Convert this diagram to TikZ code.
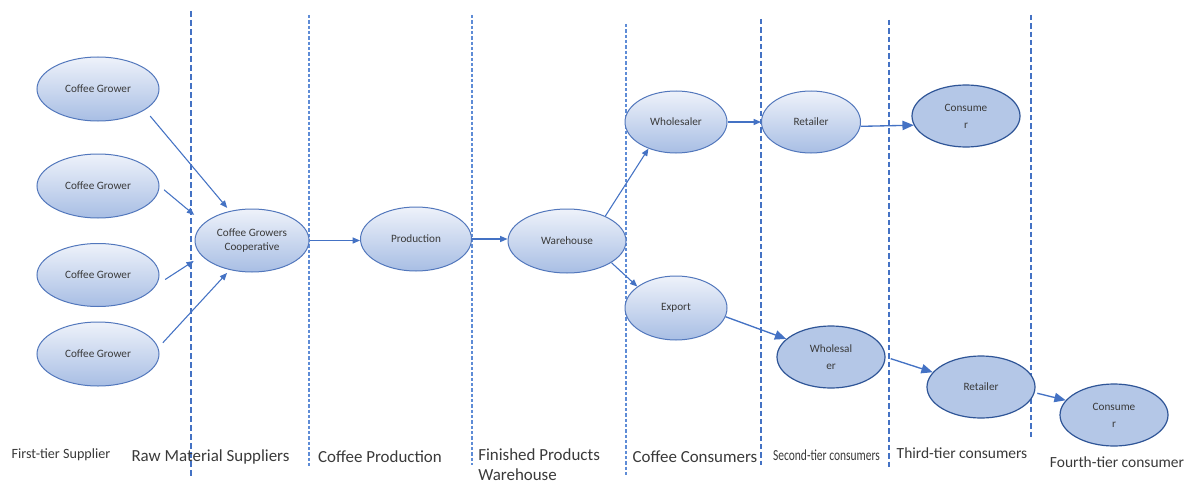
\documentclass[tikz,border=0pt]{standalone}
\usepackage{fontspec}
\usepackage{graphicx}
\setmainfont{Carlito}
\usetikzlibrary{shapes.geometric,arrows.meta}
\definecolor{arrowblue}{HTML}{4472C4}
\definecolor{lineblue}{HTML}{4472C4}
\definecolor{dotblue}{HTML}{5E8CD6}
\definecolor{gtop}{HTML}{EEF2FA}
\definecolor{gbot}{HTML}{A8BEE4}
\definecolor{gborder}{HTML}{5277BC}
\definecolor{sfill}{HTML}{B4C7E7}
\definecolor{sborder}{HTML}{2F5597}
\definecolor{txt}{HTML}{3A3A3A}
\begin{document}
\begin{tikzpicture}[x=0.75pt,y=-0.75pt,
 gell/.style 2 args={ellipse, inner sep=0pt, minimum width=#1*0.75pt, minimum height=#2*0.75pt, draw=gborder, line width=0.75pt, top color=gtop, bottom color=gbot, font=\fontsize{8.4}{10.5}\selectfont, text=txt, align=center},
 sell/.style 2 args={ellipse, inner sep=0pt, minimum width=#1*0.75pt, minimum height=#2*0.75pt, draw=sborder, line width=0.9pt, fill=sfill, font=\fontsize{8.4}{12.75}\selectfont, text=txt, align=center},
 arr/.style={draw=arrowblue, line width=0.8pt, -{Triangle[length=5.5pt,width=4.5pt]}},
 arrb/.style={draw=arrowblue, line width=1pt, -{Triangle[length=8.5pt,width=7pt]}},
 dashA/.style={lineblue, line width=0.9pt, dash pattern=on 4.5pt off 2.25pt},
 dashB/.style={dotblue, line width=0.9pt, dash pattern=on 2.4pt off 1.6pt},
 dashC/.style={lineblue, line width=0.9pt, dash pattern=on 4pt off 2.25pt},
 lab/.style={font=\fontsize{12.7}{15.75}\selectfont, text=txt, inner sep=0pt}
]
\fill[white] (0,0) rectangle (1195,485);
\useasboundingbox (0,0) rectangle (1195,485);

% vertical separators
\draw[dashA] (191,11) -- (191,477);
\draw[dashB] (309,15) -- (309,467);
\draw[dashB] (472,15) -- (472,465);
\draw[dashB] (626,24) -- (626,477);
\draw[dashC] (761,19) -- (761,465);
\draw[dashC] (889,20) -- (889,467);
\draw[dashC] (1031,15) -- (1031,439);

% nodes
\node[gell={122}{64}] (cg1) at (98,89) {Coffee Grower};
\node[gell={122}{64}] (cg2) at (98,186) {Coffee Grower};
\node[gell={122}{63}] (cg3) at (98,275) {Coffee Grower};
\node[gell={122}{64}] (cg4) at (98,354) {Coffee Grower};
\node[gell={114}{63}] (coop) at (252,240.5) {Coffee Growers\\Cooperative};
\node[gell={111}{64}] (prod) at (416,239) {Production};
\node[gell={118}{64}] (wh) at (567,241) {Warehouse};
\node[gell={102}{62}] (wl1) at (676,122) {Wholesaler};
\node[gell={99}{62}] (rt1) at (811,122) {Retailer};
\node[sell={108}{62}] (cn1) at (966,116) {Consume\\r};
\node[gell={102}{64}] (ex) at (676,308) {Export};
\node[sell={108}{62}] (wl2) at (831,357) {Wholesal\\er};
\node[sell={108}{62}] (rt2) at (981,387) {Retailer};
\node[sell={108}{62}] (cn2) at (1114,415) {Consume\\r};

% connectors
\draw[arr, shorten <=6pt, shorten >=3pt] (cg1.-24) -- (coop.127);
\draw[arr, shorten <=4.5pt, shorten >=9.5pt] (cg2.east) -- (coop.160);
\draw[arr, shorten <=8pt, shorten >=7pt] (cg3.-10) -- (coop.197);
\draw[arr, shorten <=5pt, shorten >=3pt] (cg4.6) -- (coop.233);
\draw[arr] (coop.east) -- (coop.east -| prod.west);
\draw[arr] (prod.east) -- (prod.east -| wh.west);
\draw[arr] (wh.33) -- (wl1.224);
\draw[arr] (wh.-26) -- (ex.151);
\draw[arr] (wl1.east) -- (rt1.west);
\draw[arrb] (rt1.-5) -- (cn1.190);
\draw[arrb] (ex.-10) -- (wl2.158);
\draw[arrb, shorten <=4pt] (wl2.east) -- (rt2.163);
\draw[arrb, shorten <=2pt] (rt2.-6) -- (cn2.163);

% tier labels
\node[lab, font=\fontsize{10.6}{12}\selectfont] (l1) at (61,455) {First-tier Supplier};
\node[lab] (l2) at (210.5,457) {Raw Material Suppliers};
\node[lab] (l3) at (380,457) {Coffee Production};
\node[lab, anchor=west, align=left, font=\fontsize{12.7}{15}\selectfont] (l4) at (478,465) {Finished Products\\Warehouse};
\node[lab] (l5) at (695,457) {Coffee Consumers};
\node[lab, font=\fontsize{11.5}{13}\selectfont] (l6) at (826.5,455) {\scalebox{0.75}[1]{Second-tier consumers}};
\node[lab, font=\fontsize{11.6}{14}\selectfont] (l7) at (962,453) {Third-tier consumers};
\node[lab, font=\fontsize{11.6}{14}\selectfont] (l8) at (1117,462) {Fourth-tier consumer};
\end{tikzpicture}
\end{document}
